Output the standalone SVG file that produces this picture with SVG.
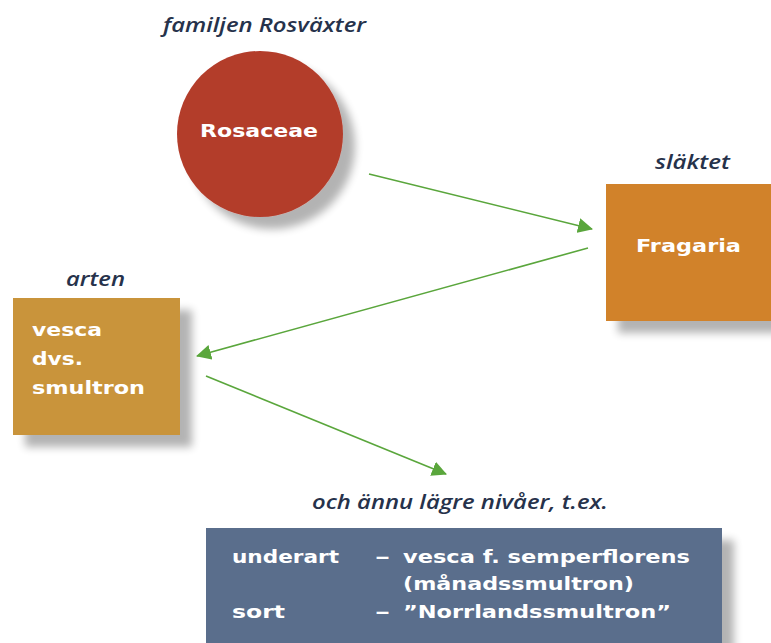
<svg xmlns="http://www.w3.org/2000/svg" width="771" height="643" viewBox="0 0 771 643">
<defs>
<filter id="sh" x="-20%" y="-20%" width="150%" height="150%">
<feGaussianBlur in="SourceAlpha" stdDeviation="4"/>
<feOffset dx="12" dy="12" result="b"/>
<feComponentTransfer><feFuncA type="linear" slope="0.3"/></feComponentTransfer>
<feMerge><feMergeNode/><feMergeNode in="SourceGraphic"/></feMerge>
</filter>
<marker id="ah" markerWidth="15" markerHeight="15" refX="14" refY="7.5" orient="auto" markerUnits="userSpaceOnUse">
<path d="M0,0 L15,7.5 L0,15 Z" fill="#5aa63c"/>
</marker>
<style>
.lab{font-family:"Open Sans","DejaVu Sans",sans-serif;font-style:italic;font-weight:600;font-size:20px;fill:#26324b}
.w{font-family:"DejaVu Sans",sans-serif;font-weight:bold;font-size:17px;fill:#ffffff}
.c{stroke:#5aa63c;stroke-width:1.6;fill:none;marker-end:url(#ah)}
</style>
</defs>
<g id="rosaceae">
<text class="lab" x="163" y="32" textLength="203" lengthAdjust="spacingAndGlyphs">familjen Rosväxter</text>
<circle cx="260" cy="134" r="83" fill="#b33c2c" filter="url(#sh)"/>
<text class="w" x="200" y="137" textLength="118" lengthAdjust="spacingAndGlyphs">Rosaceae</text>
</g>
<g id="fragaria">
<text class="lab" x="655" y="169" textLength="75" lengthAdjust="spacingAndGlyphs">släktet</text>
<rect x="606" y="184" width="165" height="137" fill="#d1822b" filter="url(#sh)"/>
<text class="w" x="636" y="252" textLength="105" lengthAdjust="spacingAndGlyphs">Fragaria</text>
</g>
<g id="vesca">
<text class="lab" x="66" y="286" textLength="59" lengthAdjust="spacingAndGlyphs">arten</text>
<rect x="13" y="298" width="167" height="137" fill="#c9943a" filter="url(#sh)"/>
<text class="w" x="32" y="336" textLength="70" lengthAdjust="spacingAndGlyphs">vesca</text>
<text class="w" x="32" y="365" textLength="51" lengthAdjust="spacingAndGlyphs">dvs.</text>
<text class="w" x="32" y="394" textLength="113" lengthAdjust="spacingAndGlyphs">smultron</text>
</g>
<g id="lower">
<text class="lab" x="312" y="509" textLength="296" lengthAdjust="spacingAndGlyphs">och ännu lägre nivåer, t.ex.</text>
<rect x="206" y="528" width="516" height="130" fill="#5a6e8c" filter="url(#sh)"/>
<text class="w" x="232" y="563" textLength="107" lengthAdjust="spacingAndGlyphs">underart</text>
<text class="w" x="375" y="563" textLength="15" lengthAdjust="spacingAndGlyphs">–</text>
<text class="w" x="403" y="563" textLength="287" lengthAdjust="spacingAndGlyphs">vesca f. semperflorens</text>
<text class="w" x="403" y="590" textLength="231" lengthAdjust="spacingAndGlyphs">(månadssmultron)</text>
<text class="w" x="232" y="618" textLength="53" lengthAdjust="spacingAndGlyphs">sort</text>
<text class="w" x="375" y="618" textLength="15" lengthAdjust="spacingAndGlyphs">–</text>
<text class="w" x="403" y="618" textLength="268" lengthAdjust="spacingAndGlyphs">”Norrlandssmultron”</text>
</g>
<g id="connectors">
<line class="c" x1="369" y1="174" x2="592" y2="229"/>
<line class="c" x1="588" y1="248" x2="197" y2="356"/>
<line class="c" x1="206" y1="376" x2="446" y2="474"/>
</g>
</svg>
